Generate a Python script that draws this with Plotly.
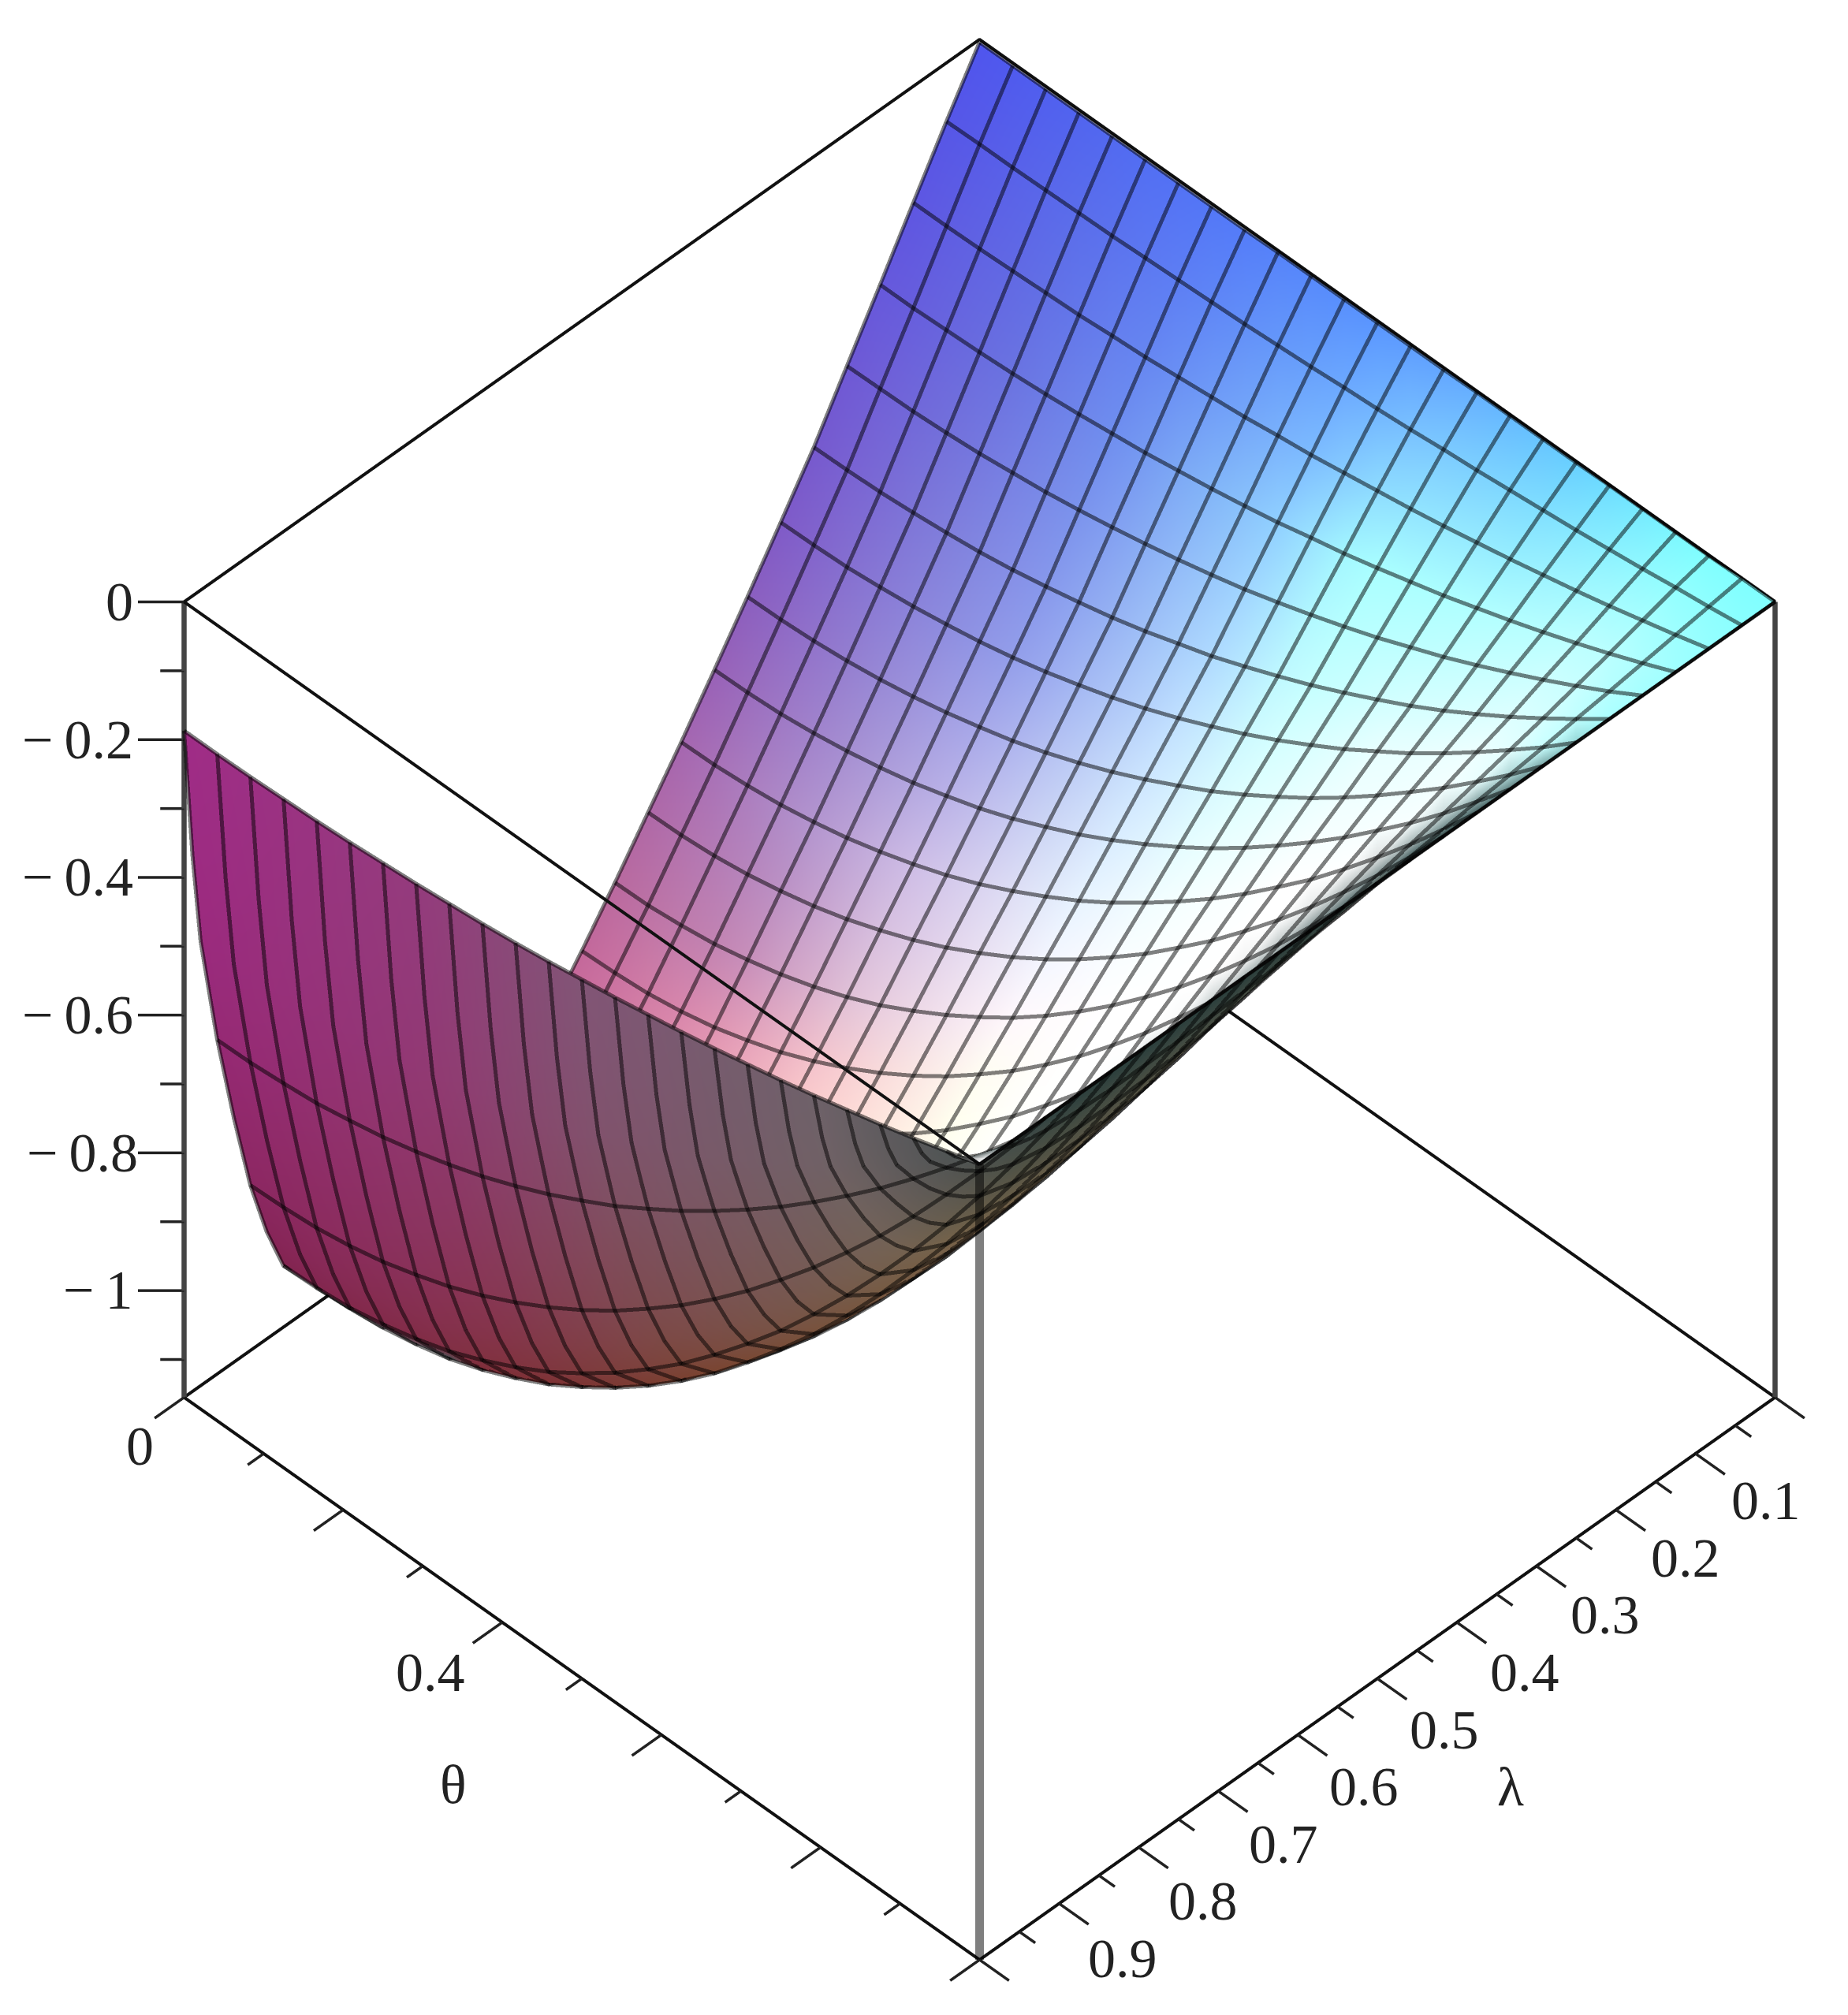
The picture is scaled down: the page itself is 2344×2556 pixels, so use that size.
import numpy as np
import plotly.graph_objects as go

theta = [0,.0417,.0833,.125,.1667,.2083,.25,.2917,.3333,.375,.4167,.4583,.5,.5417,.5833,.625,.6667,.7083,.75,.7917,.8333,.875,.9167,.9583,1]
lam = [0,.0417,.0833,.125,.1667,.2083,.25,.2917,.3333,.375,.4167,.4583,.5,.5417,.5833,.625,.6667,.7083,.75,.7917,.8333,.875,.896,.9167,.9375,.9583,.9688,.9792,.9896,1]
# depth below z=0, one row per lam value, one column per theta value
depth = [
[.004,.004,.004,.004,.004,.004,.004,.004,.004,.003,.003,.003,.003,.003,.003,.002,.002,.002,.002,.001,.001,.001,.001,0,0],
[.085,.084,.084,.083,.082,.081,.079,.077,.075,.073,.070,.067,.063,.060,.056,.051,.047,.042,.037,.032,.026,.020,.013,.007,0],
[.169,.169,.168,.166,.164,.162,.158,.155,.150,.145,.140,.133,.127,.119,.111,.103,.094,.084,.074,.063,.052,.040,.027,.014,0],
[.254,.254,.252,.250,.247,.243,.238,.232,.226,.218,.210,.201,.191,.179,.168,.155,.141,.127,.111,.095,.078,.060,.041,.021,0],
[.338,.337,.336,.333,.329,.323,.317,.309,.300,.290,.279,.267,.254,.239,.223,.206,.188,.168,.148,.126,.103,.079,.054,.028,0],
[.422,.421,.419,.415,.410,.404,.396,.386,.375,.363,.349,.333,.317,.298,.278,.257,.234,.210,.185,.158,.129,.099,.067,.034,0],
[.497,.496,.494,.489,.483,.475,.466,.455,.442,.427,.411,.393,.373,.351,.328,.303,.276,.248,.217,.186,.152,.116,.079,.041,0],
[.571,.570,.567,.562,.555,.546,.535,.522,.508,.491,.472,.451,.428,.403,.377,.348,.317,.285,.250,.213,.174,.134,.091,.047,0],
[.643,.642,.639,.633,.625,.615,.603,.588,.572,.553,.531,.508,.482,.454,.424,.392,.357,.320,.281,.240,.196,.151,.103,.052,0],
[.714,.713,.709,.703,.694,.683,.669,.653,.635,.614,.590,.564,.536,.505,.471,.435,.397,.356,.312,.267,.218,.167,.114,.058,0],
[.782,.781,.777,.770,.760,.748,.733,.715,.695,.672,.646,.618,.587,.553,.516,.477,.434,.390,.342,.292,.239,.183,.125,.064,0],
[.850,.849,.844,.837,.826,.813,.797,.778,.756,.730,.702,.671,.638,.601,.561,.518,.472,.424,.372,.317,.260,.199,.136,.069,0],
[.915,.913,.909,.901,.890,.875,.858,.837,.813,.786,.756,.723,.686,.647,.604,.558,.508,.456,.400,.342,.280,.214,.146,.075,0],
[.977,.975,.970,.962,.950,.935,.916,.894,.868,.840,.807,.772,.733,.690,.645,.595,.543,.487,.427,.365,.299,.229,.156,.080,0],
[1.033,1.031,1.026,1.017,1.004,.988,.968,.945,.918,.888,.854,.816,.775,.730,.681,.630,.574,.515,.452,.386,.316,.242,.165,.084,0],
[1.083,1.081,1.076,1.066,1.053,1.036,1.015,.991,.963,.931,.895,.855,.812,.765,.714,.660,.602,.540,.474,.404,.331,.254,.173,.088,0],
[1.120,1.118,1.112,1.103,1.089,1.071,1.050,1.025,.996,.963,.926,.885,.840,.791,.739,.683,.622,.558,.490,.418,.342,.263,.179,.091,0],
[1.145,1.143,1.137,1.127,1.113,1.095,1.073,1.048,1.018,.984,.946,.904,.859,.809,.755,.698,.636,.571,.501,.427,.350,.268,.183,.093,0],
[1.155,1.153,1.147,1.137,1.123,1.105,1.083,1.057,1.027,.993,.954,.912,.866,.816,.762,.704,.642,.576,.505,.431,.353,.271,.184,.094,0],
[1.152,1.150,1.144,1.134,1.120,1.102,1.080,1.054,1.024,.990,.952,.910,.864,.814,.760,.702,.640,.574,.504,.430,.352,.270,.184,.094,0],
[1.130,1.128,1.122,1.112,1.099,1.081,1.059,1.034,1.004,.971,.934,.893,.848,.798,.745,.689,.628,.563,.494,.422,.345,.265,.180,.092,0],
[1.066,1.064,1.059,1.049,1.036,1.020,.999,.975,.948,.916,.881,.842,.800,.753,.703,.650,.592,.531,.466,.398,.326,.250,.170,.087,0],
[1.000,.998,.993,.984,.972,.957,.938,.915,.889,.859,.826,.790,.750,.707,.660,.609,.556,.498,.438,.373,.306,.234,.160,.082,0],
[.915,.913,.909,.901,.890,.875,.858,.837,.813,.786,.756,.723,.686,.647,.604,.558,.508,.456,.400,.342,.280,.214,.146,.075,0],
[.800,.799,.794,.788,.778,.765,.750,.732,.711,.688,.661,.632,.600,.565,.528,.488,.444,.399,.350,.299,.244,.188,.128,.065,0],
[.670,.669,.665,.660,.651,.641,.628,.613,.596,.576,.554,.529,.503,.473,.442,.408,.372,.334,.293,.250,.205,.157,.107,.055,0],
[.590,.589,.586,.581,.574,.564,.553,.540,.524,.507,.488,.466,.443,.417,.389,.360,.328,.294,.258,.220,.180,.138,.094,.048,0],
[.510,.509,.506,.502,.496,.488,.478,.467,.453,.438,.421,.403,.383,.360,.336,.311,.283,.254,.223,.190,.156,.120,.081,.042,0],
[.375,.374,.372,.369,.365,.359,.352,.343,.333,.322,.310,.296,.281,.265,.247,.229,.208,.187,.164,.140,.115,.088,.060,.031,0],
[.187,.187,.186,.184,.182,.179,.175,.171,.166,.161,.155,.148,.140,.132,.123,.114,.104,.093,.082,.070,.057,.044,.030,.015,0],
]
# rows of the table that carry a drawn mesh line (the others only smooth the steep part)
mesh_rows = [0,1,2,3,4,5,6,7,8,9,10,11,12,13,14,15,16,17,18,19,20,21,23,25,29]
z_min = -1.155
z_ticks_major = [0,-.2,-.4,-.6,-.8,-1]
z_ticks_minor = [-.1,-.3,-.5,-.7,-.9,-1.1]
z_labels = ['0','\u2212\u20090.2','\u2212\u20090.4','\u2212\u20090.6','\u2212\u20090.8','\u2212\u20091']
theta_ticks_major = [0,.2,.4,.6,.8,1]
theta_ticks_minor = [.1,.3,.5,.7,.9]
lam_ticks_major = [0,.1,.2,.3,.4,.5,.6,.7,.8,.9,1]
lam_ticks_minor = [.05,.15,.25,.35,.45,.55,.65,.75,.85,.95]
lam_labels = ['0.1','0.2','0.3','0.4','0.5','0.6','0.7','0.8','0.9']
lam_label_at = [.1,.2,.3,.4,.5,.6,.7,.8,.9]

Z = -np.array(depth)
TH,LA=np.meshgrid(theta,lam)
dz_dl,dz_dt=np.gradient(Z,lam,theta)
v=np.array([1,1,1.414]);v=v/np.linalg.norm(v)
nn=np.sqrt(dz_dt**2+dz_dl**2+1)
ndv=(-dz_dt*v[0]-dz_dl*v[1]+v[2])/nn

def hx(s): return [int(s[k:k+2],16) for k in (1,3,5)]
tk=[0,.15,.3,.5,.6,.75,.9,1]
lk=[0,.125,.25,.375,.45,.52,.6]
TOP=np.array([[hx(c) for c in row] for row in [
 ['#4f55ee','#5268f0','#5478f8','#5a96ff','#66aaff','#68d0ff','#80ffff','#80ffff'],
 ['#6658dc','#6a70e0','#7090f0','#90d0ff','#a8ffff','#b0ffff','#c0ffff','#a0ffff'],
 ['#7f5ac8','#8a80d8','#94a0ec','#c0e0ff','#d0ffff','#e8ffff','#eeffff','#b0ffff'],
 ['#a566b0','#b090cc','#d0c0e8','#e8f4ff','#f4ffff','#ffffff','#ffffff','#d0ffff'],
 ['#b86aa0','#c088b8','#e0c4dc','#fff8ff','#ffffff','#ffffff','#ffffff','#ffffff'],
 ['#c8689a','#e890ac','#ffc8c8','#ffffee','#ffffff','#ffffff','#ffffff','#ffffff'],
 ['#cc6a9a','#f09aa8','#ffd0c8','#fffff0','#ffffff','#ffffff','#f8f8f8','#ffffff']]],float)
def top_col(t,l):
    byl=np.array([[np.interp(t,tk,TOP[a,:,c]) for c in range(3)] for a in range(len(lk))])
    return np.array([np.interp(l,lk,byl[:,c]) for c in range(3)])
ukn=[0,.3,.5,.8,.96,1]
UT=[[160,148,130,110,80,55],[44,60,85,98,85,70],[135,125,118,105,85,70]]
UL=[[125,125,122,118,60,42],[35,50,68,100,72,62],[70,50,48,75,65,60]]
def under(t,l):
    a=np.array([np.interp(t,ukn,x) for x in UT]);b=np.array([np.interp(t,ukn,x) for x in UL])
    s=np.clip((l-.85)/.15,0,1)
    return b+(a-b)*s
C=np.zeros(Z.shape+(3,))
for j in range(Z.shape[0]):
    for i in range(Z.shape[1]):
        t,l=TH[j,i],LA[j,i]
        if ndv[j,i]>0:
            c=top_col(t,l)
            s=min(1,ndv[j,i]/.2)
            c=c*s+np.array([60,85,85])*(1-s)
        else:
            c=under(t,l)
        C[j,i]=c
vcol=[f"rgb({int(a)},{int(b)},{int(c)})" for a,b,c in C.reshape(-1,3)]

n=len(theta);m=len(lam)
I=[];J=[];K=[]
for j in range(m-1):
    for i in range(n-1):
        p=j*n+i
        I+=[p,p];J+=[p+1,p+n+1];K+=[p+n+1,p+n]
surf=go.Mesh3d(x=LA.ravel(),y=TH.ravel(),z=Z.ravel(),i=I,j=J,k=K,vertexcolor=vcol,flatshading=False,
    lighting=dict(ambient=1,diffuse=0,specular=0,roughness=1,fresnel=0),hoverinfo='skip',showscale=False)

e=.01
ox,oy,oz=1.2*e,1.2*e,1.386*1.414*e
def seg(lst):
    X=[];Y=[];Zz=[]
    for pts in lst:
        for (l,t,z) in pts:
            X.append(l);Y.append(t);Zz.append(z)
        X.append(None);Y.append(None);Zz.append(None)
    return X,Y,Zz
def line3(lst,color,width,op=1):
    X,Y,Zz=seg(lst)
    return go.Scatter3d(x=X,y=Y,z=Zz,mode='lines',line=dict(color=color,width=width),opacity=op,hoverinfo='skip',showlegend=False)

grid=[]
for j in mesh_rows:
    grid.append([(lam[j]+ox,theta[i]+oy,Z[j,i]+oz) for i in range(n)])
for i in range(n):
    grid.append([(lam[j]+ox,theta[i]+oy,Z[j,i]+oz) for j in range(m)])

box=[[(1,0,0),(0,0,0),(0,1,0),(1,1,0),(1,0,0)],
     [(1,0,z_min),(1,1,z_min),(0,1,z_min),(0,0,z_min),(1,0,z_min)]]
verts=[[(1,0,0),(1,0,z_min)],[(0,1,0),(0,1,z_min)]]
front=[[(1,1,0),(1,1,z_min)]]
ticks=[]
for tv,L in [(theta_ticks_major,.037),(theta_ticks_minor,.02)]:
    ticks+=[[(1,q,z_min),(1+L,q,z_min)] for q in tv]
for tv,L in [(lam_ticks_major,.037),(lam_ticks_minor,.02)]:
    ticks+=[[(q,1,z_min),(q,1+L,z_min)] for q in tv]
for tv,L in [(z_ticks_major,.029),(z_ticks_minor,.015)]:
    ticks+=[[(1,0,q),(1+L,-L,q)] for q in tv]

traces=[surf,line3(grid,'#000',10,.5),line3(box,'#111',8),line3(verts,'#444',13),line3(front,'#000',22,.5),line3(ticks,'#222',7)]

fs=70
ann=[]
def A(l,t,z,text,xs,ys,anchor='center'):
    ann.append(dict(x=l,y=t,z=z,text=text,showarrow=False,xanchor=anchor,yanchor='middle',xshift=xs,yshift=ys,
        font=dict(family='Liberation Serif',size=fs,color='#222')))
for k,(q,s) in enumerate(zip(z_ticks_major,z_labels)):
    A(1,0,q,s,-62+(6 if k==4 else 0),0,'right')
A(1,0,z_min,'0',-56,-62)
A(1,.4,z_min,'0.4',-91,-64)
A(1,.6,z_min,'\u03b8',-264,-63)
for k,(q,s) in enumerate(zip(lam_label_at,lam_labels)):
    A(q,1,z_min,s,89-k,-60-1.25*k)
A(.5,1,z_min,'\u03bb',169,-137)

S=1.359
fig=go.Figure(traces)
ax=dict(visible=False,showgrid=False,zeroline=False,showspikes=False)
fig.update_layout(width=2344,height=2556,margin=dict(l=0,r=0,t=0,b=0),paper_bgcolor='white',showlegend=False,
    scene=dict(domain=dict(x=[0.0532,1],y=[0.0142,1]),
        xaxis=dict(range=[-.1,1.1],**ax),yaxis=dict(range=[-.1,1.1],**ax),
        zaxis=dict(range=[z_min-.1155,.1155],**ax),aspectmode='manual',aspectratio=dict(x=S,y=S,z=S),
        camera=dict(eye=dict(x=1,y=1,z=1.414),up=dict(x=0,y=0,z=1),center=dict(x=0,y=0,z=0),projection=dict(type='orthographic')),
        annotations=ann))
fig.write_html("out.html")
